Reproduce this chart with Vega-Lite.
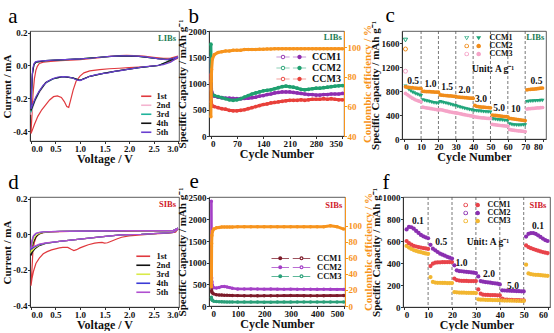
{
"$schema": "https://vega.github.io/schema/vega-lite/v6.json",
"background": "white",
"padding": {"left": 0, "top": 4, "right": 0, "bottom": 0},
"spacing": 5,
"resolve": {"scale": {"color": "independent", "shape": "independent", "fill": "independent", "stroke": "independent"}, "legend": {"color": "independent", "shape": "independent", "fill": "independent", "stroke": "independent"}},
"config": {
  "locale": {"number": {"decimal": ".", "thousands": ",", "grouping": [3], "currency": ["", ""], "minus": "-"}},
  "view": {"stroke": "#333", "strokeWidth": 0.8},
  "font": "Liberation Serif",
  "axis": {"grid": false, "labelFont": "Liberation Serif", "labelFontWeight": "bold", "labelFontSize": 9, "labelColor": "#111", "titleFont": "Liberation Serif", "titleFontWeight": "bold", "titleFontSize": 12, "titleColor": "#111", "domainColor": "#333", "tickColor": "#333", "tickSize": 2.5, "labelPadding": 0.5, "titlePadding": 0.5, "labelOverlap": false, "labelBound": false},
  "axisX": {"labelFlush": 8, "labelOverlap": false},
  "axisY": {"titleFontSize": 11, "labelOverlap": false},
  "axisQuantitative": {"labelOverlap": false},
  "legend": {"labelFont": "Liberation Serif", "labelFontWeight": "bold", "labelColor": "#111"},
  "title": {"font": "Liberation Serif", "fontSize": 21, "fontWeight": "normal", "anchor": "start", "frame": "bounds", "offset": 2, "color": "#000"},
  "text": {"font": "Liberation Serif", "fontWeight": "bold"}
},
"datasets": {
  "cvA": [
    {"c":"1st","o":0,"v":3.0,"i":0.045},{"c":"1st","o":1,"v":2.8,"i":0.02},{"c":"1st","o":2,"v":2.6,"i":0.0},{"c":"1st","o":3,"v":2.4,"i":-0.006},{"c":"1st","o":4,"v":2.2,"i":-0.01},{"c":"1st","o":5,"v":2.0,"i":-0.013},{"c":"1st","o":6,"v":1.8,"i":-0.017},{"c":"1st","o":7,"v":1.6,"i":-0.02},{"c":"1st","o":8,"v":1.4,"i":-0.025},{"c":"1st","o":9,"v":1.2,"i":-0.033},{"c":"1st","o":10,"v":1.08,"i":-0.045},{"c":"1st","o":11,"v":1.0,"i":-0.065},{"c":"1st","o":12,"v":0.92,"i":-0.096},{"c":"1st","o":13,"v":0.86,"i":-0.15},{"c":"1st","o":14,"v":0.81,"i":-0.21},{"c":"1st","o":15,"v":0.77,"i":-0.255},{"c":"1st","o":16,"v":0.73,"i":-0.25},{"c":"1st","o":17,"v":0.68,"i":-0.22},{"c":"1st","o":18,"v":0.62,"i":-0.195},{"c":"1st","o":19,"v":0.54,"i":-0.185},{"c":"1st","o":20,"v":0.46,"i":-0.19},{"c":"1st","o":21,"v":0.38,"i":-0.21},{"c":"1st","o":22,"v":0.3,"i":-0.24},{"c":"1st","o":23,"v":0.22,"i":-0.27},{"c":"1st","o":24,"v":0.14,"i":-0.31},{"c":"1st","o":25,"v":0.07,"i":-0.36},{"c":"1st","o":26,"v":0.02,"i":-0.4},{"c":"1st","o":27,"v":0.0,"i":-0.415},
    {"c":"1st","o":28,"v":0.02,"i":-0.3},{"c":"1st","o":29,"v":0.04,"i":-0.18},{"c":"1st","o":30,"v":0.07,"i":-0.08},{"c":"1st","o":31,"v":0.1,"i":-0.03},{"c":"1st","o":32,"v":0.13,"i":-0.005},{"c":"1st","o":33,"v":0.17,"i":0.012},{"c":"1st","o":34,"v":0.25,"i":0.02},{"c":"1st","o":35,"v":0.4,"i":0.025},{"c":"1st","o":36,"v":0.6,"i":0.03},{"c":"1st","o":37,"v":0.8,"i":0.033},{"c":"1st","o":38,"v":1.0,"i":0.036},{"c":"1st","o":39,"v":1.2,"i":0.042},{"c":"1st","o":40,"v":1.4,"i":0.048},{"c":"1st","o":41,"v":1.6,"i":0.056},{"c":"1st","o":42,"v":1.8,"i":0.06},{"c":"1st","o":43,"v":1.95,"i":0.062},{"c":"1st","o":44,"v":2.1,"i":0.06},{"c":"1st","o":45,"v":2.3,"i":0.057},{"c":"1st","o":46,"v":2.5,"i":0.05},{"c":"1st","o":47,"v":2.7,"i":0.043},{"c":"1st","o":48,"v":2.85,"i":0.045},{"c":"1st","o":49,"v":3.0,"i":0.058},
    {"c":"2nd","o":0,"v":3.0,"i":0.05},{"c":"2nd","o":1,"v":2.6,"i":0.0},{"c":"2nd","o":2,"v":2.2,"i":-0.013},{"c":"2nd","o":3,"v":1.83,"i":-0.03},{"c":"2nd","o":4,"v":1.5,"i":-0.047},{"c":"2nd","o":5,"v":1.2,"i":-0.066},{"c":"2nd","o":6,"v":1.0,"i":-0.09},{"c":"2nd","o":7,"v":0.85,"i":-0.076},{"c":"2nd","o":8,"v":0.65,"i":-0.068},{"c":"2nd","o":9,"v":0.45,"i":-0.082},{"c":"2nd","o":10,"v":0.3,"i":-0.108},{"c":"2nd","o":11,"v":0.17,"i":-0.165},{"c":"2nd","o":12,"v":0.08,"i":-0.22},{"c":"2nd","o":13,"v":0.03,"i":-0.265},{"c":"2nd","o":14,"v":0.0,"i":-0.3},
    {"c":"2nd","o":15,"v":0.015,"i":-0.17},{"c":"2nd","o":16,"v":0.03,"i":-0.05},{"c":"2nd","o":17,"v":0.06,"i":0.005},{"c":"2nd","o":18,"v":0.1,"i":0.02},{"c":"2nd","o":19,"v":0.3,"i":0.029},{"c":"2nd","o":20,"v":0.6,"i":0.034},{"c":"2nd","o":21,"v":1.0,"i":0.04},{"c":"2nd","o":22,"v":1.4,"i":0.05},{"c":"2nd","o":23,"v":1.8,"i":0.058},{"c":"2nd","o":24,"v":2.2,"i":0.056},{"c":"2nd","o":25,"v":2.6,"i":0.041},{"c":"2nd","o":26,"v":2.8,"i":0.036},{"c":"2nd","o":27,"v":3.0,"i":0.05},
    {"c":"3rd","o":0,"v":3.0,"i":0.05},{"c":"3rd","o":1,"v":2.6,"i":0.0},{"c":"3rd","o":2,"v":2.2,"i":-0.013},{"c":"3rd","o":3,"v":1.83,"i":-0.03},{"c":"3rd","o":4,"v":1.5,"i":-0.047},{"c":"3rd","o":5,"v":1.2,"i":-0.066},{"c":"3rd","o":6,"v":1.0,"i":-0.09},{"c":"3rd","o":7,"v":0.85,"i":-0.076},{"c":"3rd","o":8,"v":0.65,"i":-0.068},{"c":"3rd","o":9,"v":0.45,"i":-0.082},{"c":"3rd","o":10,"v":0.3,"i":-0.106},{"c":"3rd","o":11,"v":0.17,"i":-0.16},{"c":"3rd","o":12,"v":0.08,"i":-0.215},{"c":"3rd","o":13,"v":0.03,"i":-0.255},{"c":"3rd","o":14,"v":0.0,"i":-0.285},
    {"c":"3rd","o":15,"v":0.015,"i":-0.16},{"c":"3rd","o":16,"v":0.03,"i":-0.05},{"c":"3rd","o":17,"v":0.06,"i":0.005},{"c":"3rd","o":18,"v":0.1,"i":0.02},{"c":"3rd","o":19,"v":0.3,"i":0.029},{"c":"3rd","o":20,"v":0.6,"i":0.034},{"c":"3rd","o":21,"v":1.0,"i":0.04},{"c":"3rd","o":22,"v":1.4,"i":0.05},{"c":"3rd","o":23,"v":1.8,"i":0.058},{"c":"3rd","o":24,"v":2.2,"i":0.056},{"c":"3rd","o":25,"v":2.6,"i":0.041},{"c":"3rd","o":26,"v":2.8,"i":0.036},{"c":"3rd","o":27,"v":3.0,"i":0.05},
    {"c":"4th","o":0,"v":3.0,"i":0.05},{"c":"4th","o":1,"v":2.6,"i":0.0},{"c":"4th","o":2,"v":2.2,"i":-0.013},{"c":"4th","o":3,"v":1.83,"i":-0.03},{"c":"4th","o":4,"v":1.5,"i":-0.047},{"c":"4th","o":5,"v":1.2,"i":-0.066},{"c":"4th","o":6,"v":1.0,"i":-0.09},{"c":"4th","o":7,"v":0.85,"i":-0.076},{"c":"4th","o":8,"v":0.65,"i":-0.068},{"c":"4th","o":9,"v":0.45,"i":-0.081},{"c":"4th","o":10,"v":0.3,"i":-0.104},{"c":"4th","o":11,"v":0.17,"i":-0.158},{"c":"4th","o":12,"v":0.08,"i":-0.21},{"c":"4th","o":13,"v":0.03,"i":-0.25},{"c":"4th","o":14,"v":0.0,"i":-0.275},
    {"c":"4th","o":15,"v":0.012,"i":-0.16},{"c":"4th","o":16,"v":0.03,"i":-0.05},{"c":"4th","o":17,"v":0.06,"i":0.005},{"c":"4th","o":18,"v":0.1,"i":0.02},{"c":"4th","o":19,"v":0.3,"i":0.029},{"c":"4th","o":20,"v":0.6,"i":0.034},{"c":"4th","o":21,"v":1.0,"i":0.04},{"c":"4th","o":22,"v":1.4,"i":0.05},{"c":"4th","o":23,"v":1.8,"i":0.058},{"c":"4th","o":24,"v":2.2,"i":0.056},{"c":"4th","o":25,"v":2.6,"i":0.041},{"c":"4th","o":26,"v":2.8,"i":0.036},{"c":"4th","o":27,"v":3.0,"i":0.05},
    {"c":"5th","o":0,"v":3.0,"i":0.05},{"c":"5th","o":1,"v":2.85,"i":0.02},{"c":"5th","o":2,"v":2.7,"i":0.005},{"c":"5th","o":3,"v":2.5,"i":-0.003},{"c":"5th","o":4,"v":2.3,"i":-0.008},{"c":"5th","o":5,"v":2.17,"i":-0.015},{"c":"5th","o":6,"v":2.0,"i":-0.022},{"c":"5th","o":7,"v":1.83,"i":-0.031},{"c":"5th","o":8,"v":1.7,"i":-0.036},{"c":"5th","o":9,"v":1.58,"i":-0.045},{"c":"5th","o":10,"v":1.48,"i":-0.048},{"c":"5th","o":11,"v":1.33,"i":-0.056},{"c":"5th","o":12,"v":1.2,"i":-0.066},{"c":"5th","o":13,"v":1.13,"i":-0.076},{"c":"5th","o":14,"v":1.06,"i":-0.085},{"c":"5th","o":15,"v":1.0,"i":-0.092},{"c":"5th","o":16,"v":0.93,"i":-0.088},{"c":"5th","o":17,"v":0.85,"i":-0.076},{"c":"5th","o":18,"v":0.75,"i":-0.069},{"c":"5th","o":19,"v":0.65,"i":-0.068},{"c":"5th","o":20,"v":0.55,"i":-0.07},{"c":"5th","o":21,"v":0.45,"i":-0.08},{"c":"5th","o":22,"v":0.35,"i":-0.095},{"c":"5th","o":23,"v":0.25,"i":-0.12},{"c":"5th","o":24,"v":0.17,"i":-0.155},{"c":"5th","o":25,"v":0.1,"i":-0.19},{"c":"5th","o":26,"v":0.05,"i":-0.225},{"c":"5th","o":27,"v":0.0,"i":-0.265},
    {"c":"5th","o":28,"v":0.01,"i":-0.18},{"c":"5th","o":29,"v":0.02,"i":-0.09},{"c":"5th","o":30,"v":0.035,"i":-0.02},{"c":"5th","o":31,"v":0.06,"i":0.01},{"c":"5th","o":32,"v":0.09,"i":0.022},{"c":"5th","o":33,"v":0.15,"i":0.027},{"c":"5th","o":34,"v":0.3,"i":0.03},{"c":"5th","o":35,"v":0.58,"i":0.035},{"c":"5th","o":36,"v":0.8,"i":0.037},{"c":"5th","o":37,"v":1.0,"i":0.04},{"c":"5th","o":38,"v":1.2,"i":0.044},{"c":"5th","o":39,"v":1.42,"i":0.05},{"c":"5th","o":40,"v":1.6,"i":0.055},{"c":"5th","o":41,"v":1.83,"i":0.058},{"c":"5th","o":42,"v":2.05,"i":0.058},{"c":"5th","o":43,"v":2.25,"i":0.055},{"c":"5th","o":44,"v":2.45,"i":0.048},{"c":"5th","o":45,"v":2.6,"i":0.04},{"c":"5th","o":46,"v":2.75,"i":0.036},{"c":"5th","o":47,"v":2.9,"i":0.042},{"c":"5th","o":48,"v":3.0,"i":0.055}
  ],
  "cvD": [
    {"c":"1st","o":0,"v":3.0,"i":0.03},{"c":"1st","o":1,"v":2.95,"i":0.012},{"c":"1st","o":2,"v":2.8,"i":0.006},{"c":"1st","o":3,"v":2.5,"i":0.002},{"c":"1st","o":4,"v":2.25,"i":-0.003},{"c":"1st","o":5,"v":2.0,"i":-0.009},{"c":"1st","o":6,"v":1.85,"i":-0.017},{"c":"1st","o":7,"v":1.75,"i":-0.027},{"c":"1st","o":8,"v":1.65,"i":-0.038},{"c":"1st","o":9,"v":1.56,"i":-0.048},{"c":"1st","o":10,"v":1.5,"i":-0.05},{"c":"1st","o":11,"v":1.45,"i":-0.046},{"c":"1st","o":12,"v":1.38,"i":-0.047},{"c":"1st","o":13,"v":1.3,"i":-0.05},{"c":"1st","o":14,"v":1.17,"i":-0.059},{"c":"1st","o":15,"v":1.08,"i":-0.068},{"c":"1st","o":16,"v":1.0,"i":-0.077},{"c":"1st","o":17,"v":0.93,"i":-0.087},{"c":"1st","o":18,"v":0.875,"i":-0.092},{"c":"1st","o":19,"v":0.82,"i":-0.085},{"c":"1st","o":20,"v":0.75,"i":-0.074},{"c":"1st","o":21,"v":0.65,"i":-0.074},{"c":"1st","o":22,"v":0.58,"i":-0.077},{"c":"1st","o":23,"v":0.5,"i":-0.082},{"c":"1st","o":24,"v":0.42,"i":-0.088},{"c":"1st","o":25,"v":0.33,"i":-0.098},{"c":"1st","o":26,"v":0.25,"i":-0.11},{"c":"1st","o":27,"v":0.17,"i":-0.135},{"c":"1st","o":28,"v":0.1,"i":-0.165},{"c":"1st","o":29,"v":0.05,"i":-0.21},{"c":"1st","o":30,"v":0.02,"i":-0.25},{"c":"1st","o":31,"v":0.0,"i":-0.29},
    {"c":"1st","o":32,"v":0.02,"i":-0.2},{"c":"1st","o":33,"v":0.04,"i":-0.09},{"c":"1st","o":34,"v":0.07,"i":-0.045},{"c":"1st","o":35,"v":0.1,"i":-0.02},{"c":"1st","o":36,"v":0.13,"i":-0.006},{"c":"1st","o":37,"v":0.18,"i":0.004},{"c":"1st","o":38,"v":0.25,"i":0.009},{"c":"1st","o":39,"v":0.4,"i":0.013},{"c":"1st","o":40,"v":0.6,"i":0.015},{"c":"1st","o":41,"v":1.0,"i":0.017},{"c":"1st","o":42,"v":1.5,"i":0.018},{"c":"1st","o":43,"v":2.0,"i":0.018},{"c":"1st","o":44,"v":2.5,"i":0.019},{"c":"1st","o":45,"v":2.9,"i":0.02},{"c":"1st","o":46,"v":3.0,"i":0.03},
    {"c":"2nd","o":0,"v":3.0,"i":0.03},{"c":"2nd","o":1,"v":2.9,"i":0.01},{"c":"2nd","o":2,"v":2.5,"i":0.004},{"c":"2nd","o":3,"v":2.25,"i":0.0},{"c":"2nd","o":4,"v":2.0,"i":-0.002},{"c":"2nd","o":5,"v":1.83,"i":-0.004},{"c":"2nd","o":6,"v":1.42,"i":-0.015},{"c":"2nd","o":7,"v":1.0,"i":-0.027},{"c":"2nd","o":8,"v":0.58,"i":-0.04},{"c":"2nd","o":9,"v":0.3,"i":-0.052},{"c":"2nd","o":10,"v":0.17,"i":-0.064},{"c":"2nd","o":11,"v":0.08,"i":-0.082},{"c":"2nd","o":12,"v":0.03,"i":-0.1},{"c":"2nd","o":13,"v":0.0,"i":-0.12},
    {"c":"2nd","o":14,"v":0.02,"i":-0.08},{"c":"2nd","o":15,"v":0.05,"i":-0.045},{"c":"2nd","o":16,"v":0.1,"i":-0.015},{"c":"2nd","o":17,"v":0.17,"i":0.002},{"c":"2nd","o":18,"v":0.25,"i":0.01},{"c":"2nd","o":19,"v":0.4,"i":0.014},{"c":"2nd","o":20,"v":0.6,"i":0.016},{"c":"2nd","o":21,"v":1.0,"i":0.018},{"c":"2nd","o":22,"v":1.5,"i":0.019},{"c":"2nd","o":23,"v":2.0,"i":0.02},{"c":"2nd","o":24,"v":2.5,"i":0.02},{"c":"2nd","o":25,"v":2.9,"i":0.021},{"c":"2nd","o":26,"v":3.0,"i":0.035},
    {"c":"3rd","o":0,"v":3.0,"i":0.03},{"c":"3rd","o":1,"v":2.9,"i":0.01},{"c":"3rd","o":2,"v":2.5,"i":0.004},{"c":"3rd","o":3,"v":2.25,"i":0.0},{"c":"3rd","o":4,"v":2.0,"i":-0.002},{"c":"3rd","o":5,"v":1.83,"i":-0.004},{"c":"3rd","o":6,"v":1.42,"i":-0.015},{"c":"3rd","o":7,"v":1.0,"i":-0.027},{"c":"3rd","o":8,"v":0.58,"i":-0.04},{"c":"3rd","o":9,"v":0.3,"i":-0.05},{"c":"3rd","o":10,"v":0.17,"i":-0.06},{"c":"3rd","o":11,"v":0.08,"i":-0.075},{"c":"3rd","o":12,"v":0.03,"i":-0.09},{"c":"3rd","o":13,"v":0.0,"i":-0.1},
    {"c":"3rd","o":14,"v":0.02,"i":-0.06},{"c":"3rd","o":15,"v":0.05,"i":-0.03},{"c":"3rd","o":16,"v":0.1,"i":-0.006},{"c":"3rd","o":17,"v":0.17,"i":0.006},{"c":"3rd","o":18,"v":0.25,"i":0.011},{"c":"3rd","o":19,"v":0.4,"i":0.014},{"c":"3rd","o":20,"v":0.6,"i":0.016},{"c":"3rd","o":21,"v":1.0,"i":0.018},{"c":"3rd","o":22,"v":1.5,"i":0.019},{"c":"3rd","o":23,"v":2.0,"i":0.02},{"c":"3rd","o":24,"v":2.5,"i":0.02},{"c":"3rd","o":25,"v":2.9,"i":0.021},{"c":"3rd","o":26,"v":3.0,"i":0.035},
    {"c":"4th","o":0,"v":3.0,"i":0.03},{"c":"4th","o":1,"v":2.9,"i":0.01},{"c":"4th","o":2,"v":2.5,"i":0.004},{"c":"4th","o":3,"v":2.25,"i":0.0},{"c":"4th","o":4,"v":2.0,"i":-0.002},{"c":"4th","o":5,"v":1.83,"i":-0.004},{"c":"4th","o":6,"v":1.42,"i":-0.015},{"c":"4th","o":7,"v":1.0,"i":-0.027},{"c":"4th","o":8,"v":0.58,"i":-0.04},{"c":"4th","o":9,"v":0.3,"i":-0.05},{"c":"4th","o":10,"v":0.17,"i":-0.058},{"c":"4th","o":11,"v":0.08,"i":-0.07},{"c":"4th","o":12,"v":0.03,"i":-0.078},{"c":"4th","o":13,"v":0.0,"i":-0.085},
    {"c":"4th","o":14,"v":0.02,"i":-0.04},{"c":"4th","o":15,"v":0.05,"i":-0.012},{"c":"4th","o":16,"v":0.1,"i":0.004},{"c":"4th","o":17,"v":0.17,"i":0.01},{"c":"4th","o":18,"v":0.25,"i":0.013},{"c":"4th","o":19,"v":0.4,"i":0.015},{"c":"4th","o":20,"v":0.6,"i":0.016},{"c":"4th","o":21,"v":1.0,"i":0.018},{"c":"4th","o":22,"v":1.5,"i":0.019},{"c":"4th","o":23,"v":2.0,"i":0.02},{"c":"4th","o":24,"v":2.5,"i":0.02},{"c":"4th","o":25,"v":2.9,"i":0.021},{"c":"4th","o":26,"v":3.0,"i":0.035},
    {"c":"5th","o":0,"v":3.0,"i":0.03},{"c":"5th","o":1,"v":2.9,"i":0.01},{"c":"5th","o":2,"v":2.5,"i":0.004},{"c":"5th","o":3,"v":2.25,"i":0.0},{"c":"5th","o":4,"v":2.0,"i":-0.002},{"c":"5th","o":5,"v":1.83,"i":-0.004},{"c":"5th","o":6,"v":1.42,"i":-0.015},{"c":"5th","o":7,"v":1.0,"i":-0.027},{"c":"5th","o":8,"v":0.58,"i":-0.04},{"c":"5th","o":9,"v":0.3,"i":-0.049},{"c":"5th","o":10,"v":0.17,"i":-0.056},{"c":"5th","o":11,"v":0.08,"i":-0.066},{"c":"5th","o":12,"v":0.03,"i":-0.072},{"c":"5th","o":13,"v":0.0,"i":-0.077},
    {"c":"5th","o":14,"v":0.02,"i":-0.035},{"c":"5th","o":15,"v":0.05,"i":-0.008},{"c":"5th","o":16,"v":0.1,"i":0.006},{"c":"5th","o":17,"v":0.17,"i":0.011},{"c":"5th","o":18,"v":0.25,"i":0.014},{"c":"5th","o":19,"v":0.4,"i":0.015},{"c":"5th","o":20,"v":0.6,"i":0.016},{"c":"5th","o":21,"v":1.0,"i":0.018},{"c":"5th","o":22,"v":1.5,"i":0.019},{"c":"5th","o":23,"v":2.0,"i":0.02},{"c":"5th","o":24,"v":2.5,"i":0.02},{"c":"5th","o":25,"v":2.9,"i":0.021},{"c":"5th","o":26,"v":3.0,"i":0.035}
  ],
  "capB": [
    {"n":1,"CCM1":1500,"CCM2":1750,"CCM3":1180,"ce":53},
    {"n":2,"CCM1":900,"CCM2":880,"CCM3":650,"ce":77},
    {"n":3,"CCM1":850,"CCM2":820,"CCM3":600,"ce":85},
    {"n":5,"CCM1":800,"CCM2":790,"CCM3":570,"ce":92},
    {"n":10,"CCM1":760,"CCM2":770,"CCM3":560,"ce":95},
    {"n":20,"CCM1":740,"CCM2":750,"CCM3":540,"ce":96.5},
    {"n":30,"CCM1":730,"CCM2":730,"CCM3":520,"ce":97},
    {"n":40,"CCM1":720,"CCM2":710,"CCM3":510,"ce":97.5},
    {"n":50,"CCM1":720,"CCM2":690,"CCM3":490,"ce":97.5},
    {"n":60,"CCM1":715,"CCM2":680,"CCM3":480,"ce":98},
    {"n":70,"CCM1":710,"CCM2":690,"CCM3":480,"ce":98},
    {"n":80,"CCM1":710,"CCM2":710,"CCM3":490,"ce":98},
    {"n":90,"CCM1":715,"CCM2":740,"CCM3":500,"ce":98.5},
    {"n":100,"CCM1":720,"CCM2":770,"CCM3":520,"ce":98.5},
    {"n":110,"CCM1":730,"CCM2":800,"CCM3":540,"ce":98.5},
    {"n":120,"CCM1":740,"CCM2":820,"CCM3":560,"ce":98.5},
    {"n":130,"CCM1":760,"CCM2":840,"CCM3":580,"ce":98.7},
    {"n":140,"CCM1":770,"CCM2":860,"CCM3":600,"ce":98.7},
    {"n":150,"CCM1":790,"CCM2":870,"CCM3":610,"ce":98.8},
    {"n":160,"CCM1":800,"CCM2":880,"CCM3":630,"ce":98.8},
    {"n":170,"CCM1":820,"CCM2":900,"CCM3":640,"ce":99},
    {"n":180,"CCM1":830,"CCM2":920,"CCM3":650,"ce":99},
    {"n":190,"CCM1":840,"CCM2":940,"CCM3":660,"ce":99},
    {"n":200,"CCM1":840,"CCM2":950,"CCM3":670,"ce":99},
    {"n":210,"CCM1":840,"CCM2":940,"CCM3":680,"ce":99},
    {"n":220,"CCM1":830,"CCM2":930,"CCM3":680,"ce":99},
    {"n":230,"CCM1":820,"CCM2":910,"CCM3":680,"ce":99},
    {"n":240,"CCM1":810,"CCM2":890,"CCM3":690,"ce":99},
    {"n":250,"CCM1":800,"CCM2":880,"CCM3":680,"ce":99},
    {"n":260,"CCM1":790,"CCM2":890,"CCM3":690,"ce":99},
    {"n":270,"CCM1":790,"CCM2":900,"CCM3":700,"ce":99},
    {"n":280,"CCM1":780,"CCM2":910,"CCM3":700,"ce":99},
    {"n":290,"CCM1":780,"CCM2":910,"CCM3":700,"ce":99},
    {"n":300,"CCM1":790,"CCM2":920,"CCM3":710,"ce":99},
    {"n":310,"CCM1":790,"CCM2":930,"CCM3":700,"ce":99},
    {"n":320,"CCM1":800,"CCM2":940,"CCM3":710,"ce":99},
    {"n":330,"CCM1":800,"CCM2":950,"CCM3":700,"ce":99},
    {"n":340,"CCM1":800,"CCM2":955,"CCM3":690,"ce":99},
    {"n":350,"CCM1":810,"CCM2":960,"CCM3":690,"ce":99}
  ],
  "capE": [
    {"n":1,"CCM1":1380,"CCM2":2420,"CCM3":200,"ce":24},
    {"n":2,"CCM1":350,"CCM2":650,"CCM3":160,"ce":78},
    {"n":3,"CCM1":320,"CCM2":560,"CCM3":145,"ce":88},
    {"n":5,"CCM1":300,"CCM2":480,"CCM3":130,"ce":93},
    {"n":10,"CCM1":280,"CCM2":420,"CCM3":112,"ce":96},
    {"n":20,"CCM1":262,"CCM2":415,"CCM3":102,"ce":97.5},
    {"n":30,"CCM1":255,"CCM2":430,"CCM3":98,"ce":98},
    {"n":40,"CCM1":252,"CCM2":448,"CCM3":96,"ce":98.5},
    {"n":50,"CCM1":250,"CCM2":450,"CCM3":95,"ce":98.5},
    {"n":60,"CCM1":248,"CCM2":440,"CCM3":94,"ce":98.5},
    {"n":70,"CCM1":246,"CCM2":425,"CCM3":93,"ce":98.7},
    {"n":80,"CCM1":244,"CCM2":412,"CCM3":92,"ce":98.7},
    {"n":100,"CCM1":240,"CCM2":395,"CCM3":90,"ce":98.8},
    {"n":125,"CCM1":238,"CCM2":392,"CCM3":90,"ce":98.8},
    {"n":150,"CCM1":236,"CCM2":395,"CCM3":90,"ce":98.8},
    {"n":175,"CCM1":235,"CCM2":393,"CCM3":90,"ce":99},
    {"n":200,"CCM1":236,"CCM2":390,"CCM3":89,"ce":99},
    {"n":225,"CCM1":237,"CCM2":392,"CCM3":89,"ce":99},
    {"n":250,"CCM1":238,"CCM2":390,"CCM3":90,"ce":99},
    {"n":275,"CCM1":240,"CCM2":388,"CCM3":90,"ce":99},
    {"n":300,"CCM1":241,"CCM2":390,"CCM3":90,"ce":99},
    {"n":325,"CCM1":240,"CCM2":388,"CCM3":91,"ce":99},
    {"n":350,"CCM1":239,"CCM2":386,"CCM3":91,"ce":99},
    {"n":375,"CCM1":238,"CCM2":387,"CCM3":91,"ce":99},
    {"n":400,"CCM1":238,"CCM2":385,"CCM3":92,"ce":98.8},
    {"n":425,"CCM1":239,"CCM2":386,"CCM3":92,"ce":99},
    {"n":450,"CCM1":240,"CCM2":385,"CCM3":92,"ce":100},
    {"n":475,"CCM1":240,"CCM2":384,"CCM3":93,"ce":99},
    {"n":500,"CCM1":242,"CCM2":384,"CCM3":93,"ce":96}
  ],
  "rateC": [
    {"x":1,"CCM1":880,"CCM2":870,"CCM3":760},{"x":2,"CCM1":850,"CCM2":865,"CCM3":740},{"x":3,"CCM1":820,"CCM2":860,"CCM3":720},{"x":4,"CCM1":800,"CCM2":858,"CCM3":700},{"x":5,"CCM1":780,"CCM2":855,"CCM3":680},{"x":6,"CCM1":765,"CCM2":850,"CCM3":665},{"x":7,"CCM1":750,"CCM2":848,"CCM3":650},{"x":8,"CCM1":740,"CCM2":845,"CCM3":640},{"x":9,"CCM1":730,"CCM2":843,"CCM3":630},{"x":10,"CCM1":720,"CCM2":840,"CCM3":620},
    {"x":11,"CCM1":650,"CCM2":795,"CCM3":530},{"x":12,"CCM1":640,"CCM2":793,"CCM3":525},{"x":13,"CCM1":635,"CCM2":790,"CCM3":520},{"x":14,"CCM1":628,"CCM2":790,"CCM3":515},{"x":15,"CCM1":620,"CCM2":788,"CCM3":510},{"x":16,"CCM1":612,"CCM2":787,"CCM3":505},{"x":17,"CCM1":605,"CCM2":785,"CCM3":500},{"x":18,"CCM1":600,"CCM2":783,"CCM3":495},{"x":19,"CCM1":595,"CCM2":782,"CCM3":490},{"x":20,"CCM1":590,"CCM2":780,"CCM3":485},
    {"x":21,"CCM1":620,"CCM2":735,"CCM3":490},{"x":22,"CCM1":612,"CCM2":730,"CCM3":485},{"x":23,"CCM1":605,"CCM2":728,"CCM3":478},{"x":24,"CCM1":598,"CCM2":725,"CCM3":470},{"x":25,"CCM1":590,"CCM2":722,"CCM3":463},{"x":26,"CCM1":582,"CCM2":720,"CCM3":455},{"x":27,"CCM1":575,"CCM2":718,"CCM3":450},{"x":28,"CCM1":568,"CCM2":715,"CCM3":445},{"x":29,"CCM1":560,"CCM2":712,"CCM3":440},{"x":30,"CCM1":555,"CCM2":710,"CCM3":435},
    {"x":31,"CCM1":540,"CCM2":700,"CCM3":430},{"x":32,"CCM1":532,"CCM2":698,"CCM3":425},{"x":33,"CCM1":525,"CCM2":695,"CCM3":418},{"x":34,"CCM1":518,"CCM2":692,"CCM3":412},{"x":35,"CCM1":510,"CCM2":690,"CCM3":405},{"x":36,"CCM1":502,"CCM2":688,"CCM3":400},{"x":37,"CCM1":495,"CCM2":685,"CCM3":395},{"x":38,"CCM1":488,"CCM2":683,"CCM3":390},{"x":39,"CCM1":482,"CCM2":680,"CCM3":385},{"x":40,"CCM1":476,"CCM2":678,"CCM3":380},
    {"x":41,"CCM1":470,"CCM2":560,"CCM3":370},{"x":42,"CCM1":467,"CCM2":545,"CCM3":365},{"x":43,"CCM1":464,"CCM2":540,"CCM3":360},{"x":44,"CCM1":461,"CCM2":535,"CCM3":357},{"x":45,"CCM1":458,"CCM2":533,"CCM3":354},{"x":46,"CCM1":455,"CCM2":530,"CCM3":351},{"x":47,"CCM1":452,"CCM2":528,"CCM3":348},{"x":48,"CCM1":450,"CCM2":525,"CCM3":345},{"x":49,"CCM1":448,"CCM2":523,"CCM3":342},{"x":50,"CCM1":446,"CCM2":520,"CCM3":340},
    {"x":51,"CCM1":335,"CCM2":400,"CCM3":245},{"x":52,"CCM1":330,"CCM2":395,"CCM3":240},{"x":53,"CCM1":326,"CCM2":392,"CCM3":236},{"x":54,"CCM1":322,"CCM2":388,"CCM3":232},{"x":55,"CCM1":318,"CCM2":385,"CCM3":228},{"x":56,"CCM1":315,"CCM2":382,"CCM3":225},{"x":57,"CCM1":312,"CCM2":378,"CCM3":222},{"x":58,"CCM1":309,"CCM2":375,"CCM3":219},{"x":59,"CCM1":306,"CCM2":372,"CCM3":216},{"x":60,"CCM1":303,"CCM2":370,"CCM3":213},
    {"x":61,"CCM1":250,"CCM2":345,"CCM3":160},{"x":62,"CCM1":240,"CCM2":340,"CCM3":152},{"x":63,"CCM1":235,"CCM2":336,"CCM3":147},{"x":64,"CCM1":232,"CCM2":332,"CCM3":143},{"x":65,"CCM1":230,"CCM2":328,"CCM3":140},{"x":66,"CCM1":230,"CCM2":324,"CCM3":137},{"x":67,"CCM1":230,"CCM2":320,"CCM3":134},{"x":68,"CCM1":231,"CCM2":316,"CCM3":131},{"x":69,"CCM1":232,"CCM2":312,"CCM3":128},{"x":70,"CCM1":233,"CCM2":308,"CCM3":125},
    {"x":71,"CCM1":620,"CCM2":820,"CCM3":500},{"x":72,"CCM1":625,"CCM2":825,"CCM3":505},{"x":73,"CCM1":628,"CCM2":828,"CCM3":508},{"x":74,"CCM1":630,"CCM2":830,"CCM3":510},{"x":75,"CCM1":632,"CCM2":832,"CCM3":512},{"x":76,"CCM1":634,"CCM2":835,"CCM3":515},{"x":77,"CCM1":636,"CCM2":838,"CCM3":517},{"x":78,"CCM1":638,"CCM2":842,"CCM3":520},{"x":79,"CCM1":640,"CCM2":846,"CCM3":522},{"x":80,"CCM1":642,"CCM2":850,"CCM3":525}
  ],
  "firstC": [
    {"s":"CCM1","x":1,"cap":1650},{"s":"CCM2","x":1,"cap":1500},{"s":"CCM3","x":1,"cap":1130}
  ],
  "vlC": [{"x":10},{"x":20},{"x":30},{"x":40},{"x":50},{"x":60},{"x":70}],
  "labC": [
    {"x":5.4,"cap":975,"t":"0.5"},{"x":15.4,"cap":925,"t":"1.0"},{"x":25,"cap":865,"t":"1.5"},{"x":35,"cap":825,"t":"2.0"},{"x":44.5,"cap":665,"t":"3.0"},{"x":55,"cap":510,"t":"5.0"},{"x":64.5,"cap":500,"t":"10"},{"x":76.5,"cap":975,"t":"0.5"},{"x":51.5,"cap":1170,"t":"Unit: A g⁻¹"}
  ],
  "tagC": [{"x":81,"cap":1700,"t":"LIBs"}],
  "rateF": [
    {"x":1,"CCM1":600,"CCM2":705,"CCM3":555},{"x":2,"CCM1":580,"CCM2":728,"CCM3":540},{"x":3,"CCM1":566,"CCM2":725,"CCM3":528},{"x":4,"CCM1":556,"CCM2":712,"CCM3":518},{"x":5,"CCM1":550,"CCM2":692,"CCM3":510},{"x":6,"CCM1":545,"CCM2":673,"CCM3":503},{"x":7,"CCM1":540,"CCM2":655,"CCM3":498},{"x":8,"CCM1":536,"CCM2":643,"CCM3":492},{"x":9,"CCM1":532,"CCM2":634,"CCM3":487},{"x":10,"CCM1":528,"CCM2":625,"CCM3":483},
    {"x":11,"CCM1":372,"CCM2":565,"CCM3":272},{"x":12,"CCM1":394,"CCM2":530,"CCM3":228},{"x":13,"CCM1":403,"CCM2":515,"CCM3":222},{"x":14,"CCM1":405,"CCM2":500,"CCM3":220},{"x":15,"CCM1":406,"CCM2":486,"CCM3":220},{"x":16,"CCM1":407,"CCM2":476,"CCM3":219},{"x":17,"CCM1":407,"CCM2":467,"CCM3":219},{"x":18,"CCM1":408,"CCM2":456,"CCM3":218},{"x":19,"CCM1":408,"CCM2":448,"CCM3":218},{"x":20,"CCM1":409,"CCM2":440,"CCM3":218},
    {"x":21,"CCM1":258,"CCM2":379,"CCM3":136},{"x":22,"CCM1":245,"CCM2":333,"CCM3":133},{"x":23,"CCM1":240,"CCM2":327,"CCM3":131},{"x":24,"CCM1":238,"CCM2":325,"CCM3":130},{"x":25,"CCM1":237,"CCM2":322,"CCM3":130},{"x":26,"CCM1":237,"CCM2":320,"CCM3":129},{"x":27,"CCM1":236,"CCM2":318,"CCM3":129},{"x":28,"CCM1":236,"CCM2":315,"CCM3":128},{"x":29,"CCM1":236,"CCM2":312,"CCM3":128},{"x":30,"CCM1":236,"CCM2":309,"CCM3":127},
    {"x":31,"CCM1":160,"CCM2":278,"CCM3":70},{"x":32,"CCM1":121,"CCM2":236,"CCM3":67},{"x":33,"CCM1":112,"CCM2":230,"CCM3":66},{"x":34,"CCM1":111,"CCM2":227,"CCM3":65},{"x":35,"CCM1":110,"CCM2":224,"CCM3":64},{"x":36,"CCM1":109,"CCM2":221,"CCM3":64},{"x":37,"CCM1":108,"CCM2":218,"CCM3":63},{"x":38,"CCM1":107,"CCM2":215,"CCM3":63},{"x":39,"CCM1":106,"CCM2":212,"CCM3":62},{"x":40,"CCM1":106,"CCM2":205,"CCM3":62},
    {"x":41,"CCM1":76,"CCM2":152,"CCM3":60},{"x":42,"CCM1":67,"CCM2":150,"CCM3":59},{"x":43,"CCM1":66,"CCM2":149,"CCM3":58},{"x":44,"CCM1":65,"CCM2":148,"CCM3":58},{"x":45,"CCM1":64,"CCM2":147,"CCM3":57},{"x":46,"CCM1":63,"CCM2":146,"CCM3":57},{"x":47,"CCM1":62,"CCM2":145,"CCM3":56},{"x":48,"CCM1":62,"CCM2":144,"CCM3":56},{"x":49,"CCM1":61,"CCM2":143,"CCM3":55},{"x":50,"CCM1":61,"CCM2":142,"CCM3":55},
    {"x":51,"CCM1":560,"CCM2":640,"CCM3":385},{"x":52,"CCM1":545,"CCM2":665,"CCM3":305},{"x":53,"CCM1":535,"CCM2":672,"CCM3":298},{"x":54,"CCM1":527,"CCM2":672,"CCM3":295},{"x":55,"CCM1":520,"CCM2":665,"CCM3":293},{"x":56,"CCM1":512,"CCM2":652,"CCM3":291},{"x":57,"CCM1":505,"CCM2":637,"CCM3":289},{"x":58,"CCM1":499,"CCM2":622,"CCM3":287},{"x":59,"CCM1":494,"CCM2":609,"CCM3":285},{"x":60,"CCM1":490,"CCM2":600,"CCM3":283}
  ],
  "vlF": [{"x":10},{"x":20},{"x":30},{"x":40},{"x":50}],
  "labF": [
    {"x":5.7,"cap":785,"t":"0.1"},{"x":15.5,"cap":590,"t":"0.5"},{"x":24,"cap":402,"t":"1.0"},{"x":35.5,"cap":296,"t":"2.0"},{"x":45.5,"cap":190,"t":"5.0"},{"x":56,"cap":740,"t":"0.1"},{"x":35,"cap":590,"t":"Unit: A g⁻¹"}
  ],
  "tagF": [{"x":59.5,"cap":930,"t":"SIBs"}]
},
"vconcat": [
 {"spacing": -4,
  "resolve": {"scale": {"color": "independent", "shape": "independent", "fill": "independent", "stroke": "independent"}, "legend": {"color": "independent", "shape": "independent", "fill": "independent", "stroke": "independent"}},
  "hconcat": [
  {
   "width": 149, "height": 110,
   "title": {"text": "a", "dx": 7, "offset": 2},
   "layer": [
    {
     "data": {"name": "cvA"},
     "mark": {"type": "line", "strokeWidth": 1.2, "clip": true},
     "encoding": {
       "x": {"field": "v", "type": "quantitative", "scale": {"domain": [-0.02, 3.02], "nice": false, "zero": false}, "axis": {"title": "Voltage / V", "values": [0,0.5,1,1.5,2,2.5,3], "format": ".1f", "labelOverlap": false}},
       "y": {"field": "i", "type": "quantitative", "scale": {"domain": [-0.46, 0.21], "nice": false, "zero": false}, "axis": {"title": "Current / mA", "values": [-0.4,-0.2,0,0.2], "format": ".1f", "labelOverlap": false}},
       "color": {"field": "c", "type": "nominal", "scale": {"domain": ["1st","2nd","3rd","4th","5th"], "range": ["#e0393e","#f4b4d0","#1fb39b","#111111","#6a3fd0"]}, "legend": {"orient": "none", "legendX": 112, "legendY": 61, "title": null, "symbolType": "M-1.7,0L1.7,0", "symbolSize": 36, "symbolStrokeWidth": 1.6, "labelFontSize": 8.5, "rowPadding": -1.5, "labelOffset": 6, "padding": 0}},
       "order": {"field": "o", "type": "quantitative"}
     }
    },
    {
     "data": {"values": [{"v": 2.96, "i": 0.165, "t": "LIBs"}]},
     "mark": {"type": "text", "color": "#1c7c54", "fontSize": 8.5, "align": "right", "baseline": "middle"},
     "encoding": {
       "x": {"field": "v", "type": "quantitative", "scale": {"domain": [-0.02, 3.02], "nice": false, "zero": false}, "axis": {"title": "Voltage / V", "values": [0,0.5,1,1.5,2,2.5,3], "format": ".1f", "labelOverlap": false}},
       "y": {"field": "i", "type": "quantitative", "scale": {"domain": [-0.46, 0.21], "nice": false, "zero": false}, "axis": {"title": "Current / mA", "values": [-0.4,-0.2,0,0.2], "format": ".1f", "labelOverlap": false}},
       "text": {"field": "t"}
     }
    }
   ]
  },
  {
   "width": 135, "height": 105,
   "title": {"text": "b", "dx": 12, "offset": -8},
   "layer": [
    {"layer": [
      {
       "data": {"name": "capB"},
       "transform": [{"fold": ["CCM1","CCM2","CCM3"], "as": ["s","cap"]}],
       "mark": {"type": "point", "filled": true, "size": 14, "opacity": 1, "clip": true},
       "encoding": {
         "x": {"field": "n", "type": "quantitative", "scale": {"domain": [-4, 354], "nice": false, "zero": false}, "axis": {"title": "Cycle Number", "values": [0,70,140,210,280,350], "labelOverlap": false}},
         "y": {"field": "cap", "type": "quantitative", "scale": {"domain": [0, 2000], "nice": false}, "axis": {"title": "Specific Capacity / mAh g⁻¹", "values": [0,500,1000,1500,2000], "format": "d", "labelOverlap": false}},
         "color": {"field": "s", "type": "nominal", "scale": {"domain": ["CCM1","CCM2","CCM3"], "range": ["#8e2db0","#1fa070","#e8403a"]}, "legend": {"orient": "none", "legendX": 69, "legendY": 21, "title": null, "symbolType": "M-3,-0.15L-1,-0.15L-1,0.15L-3,0.15ZM-1,0A1,1 0 1,1 1,0A1,1 0 1,1 -1,0ZM-0.6,0A0.6,0.6 0 1,0 0.6,0A0.6,0.6 0 1,0 -0.6,0ZM1,-0.15L3,-0.15L3,0.15L1,0.15ZM4.5,-0.15L10.5,-0.15L10.5,0.15L4.5,0.15ZM6.5,0A1,1 0 1,1 8.5,0A1,1 0 1,1 6.5,0Z", "symbolSize": 19.4, "symbolStrokeWidth": 0, "labelFontSize": 10, "labelOffset": 24, "rowPadding": 1, "padding": 0}}
       }
      },
      {
       "data": {"name": "capB"},
       "transform": [{"fold": ["CCM1","CCM2","CCM3"], "as": ["s","cap"]}],
       "mark": {"type": "line", "strokeWidth": 3, "clip": true},
       "encoding": {
         "x": {"field": "n", "type": "quantitative", "scale": {"domain": [-4, 354], "nice": false, "zero": false}, "axis": {"title": "Cycle Number", "values": [0,70,140,210,280,350], "labelOverlap": false}},
         "y": {"field": "cap", "type": "quantitative", "scale": {"domain": [0, 2000], "nice": false}, "axis": {"title": "Specific Capacity / mAh g⁻¹", "values": [0,500,1000,1500,2000], "format": "d", "labelOverlap": false}},
         "stroke": {"field": "s", "type": "nominal", "scale": {"domain": ["CCM1","CCM2","CCM3"], "range": ["#8e2db0","#1fa070","#e8403a"]}, "legend": null}
       }
      },
      {
       "data": {"values": [{"n": 348, "cap": 1880, "t": "LIBs"}]},
       "mark": {"type": "text", "color": "#1c7c54", "fontSize": 8.5, "align": "right", "baseline": "middle"},
       "encoding": {
         "x": {"field": "n", "type": "quantitative", "scale": {"domain": [-4, 354], "nice": false, "zero": false}, "axis": {"title": "Cycle Number", "values": [0,70,140,210,280,350], "labelOverlap": false}},
         "y": {"field": "cap", "type": "quantitative", "scale": {"domain": [0, 2000], "nice": false}, "axis": {"title": "Specific Capacity / mAh g⁻¹", "values": [0,500,1000,1500,2000], "format": "d", "labelOverlap": false}},
         "text": {"field": "t"}
       }
      }
    ]},
    {"layer": [
      {
       "data": {"name": "capB"},
       "mark": {"type": "line", "strokeWidth": 3, "color": "#f7941d", "clip": true},
       "encoding": {
         "x": {"field": "n", "type": "quantitative", "scale": {"domain": [-4, 354], "nice": false, "zero": false}, "axis": {"title": "Cycle Number", "values": [0,70,140,210,280,350], "labelOverlap": false}},
         "y": {"field": "ce", "type": "quantitative", "scale": {"domain": [40, 111], "nice": false, "zero": false}, "axis": {"orient": "right", "title": "Coulombic efficiency / %", "values": [40,60,80,100], "labelOverlap": false, "labelColor": "#f7941d", "titleColor": "#f7941d", "domainColor": "#f7941d", "tickColor": "#f7941d", "titleAngle": 270, "titleBaseline": "top"}}
       }
      },
      {
       "data": {"name": "capB"},
       "mark": {"type": "point", "filled": true, "size": 12, "opacity": 1, "color": "#f7941d", "clip": true},
       "encoding": {
         "x": {"field": "n", "type": "quantitative", "scale": {"domain": [-4, 354], "nice": false, "zero": false}, "axis": {"title": "Cycle Number", "values": [0,70,140,210,280,350], "labelOverlap": false}},
         "y": {"field": "ce", "type": "quantitative", "scale": {"domain": [40, 111], "nice": false, "zero": false}, "axis": {"orient": "right", "title": "Coulombic efficiency / %", "values": [40,60,80,100], "labelOverlap": false, "labelColor": "#f7941d", "titleColor": "#f7941d", "domainColor": "#f7941d", "tickColor": "#f7941d", "titleAngle": 270, "titleBaseline": "top"}}
       }
      }
    ]}
   ],
   "resolve": {"scale": {"y": "independent"}}
  },
  {
   "width": 144, "height": 108,
   "title": {"text": "c", "dx": 16, "offset": -5},
   "layer": [
    {
     "data": {"name": "rateC"},
     "transform": [{"fold": ["CCM1","CCM2","CCM3"], "as": ["s","cap"]}, {"filter": "datum.x > 1000"}],
     "mark": {"type": "point", "filled": true, "opacity": 1},
     "encoding": {
       "x": {"field": "x", "type": "quantitative", "scale": {"domain": [-1, 82], "nice": false, "zero": false}, "axis": {"title": "Cycle Number", "values": [0,10,20,30,40,50,60,70,80], "labelOverlap": false}},
       "y": {"field": "cap", "type": "quantitative", "scale": {"domain": [0, 1800], "nice": false}, "axis": {"title": "Specific Capacity / mAh g⁻¹", "values": [0,400,800,1200,1600], "format": "d", "labelOverlap": false}},
       "color": {"field": "s", "type": "nominal", "scale": {"domain": ["CCM1","CCM2","CCM3"], "range": ["#1fa57a","#f08c1a","#f5a3c7"]}, "legend": {"orient": "none", "legendX": 60.7, "legendY": 3, "title": null, "symbolSize": 21.2, "symbolStrokeWidth": 0, "labelFontSize": 8, "labelOffset": 18.7, "rowPadding": -1, "padding": 0}},
       "shape": {"field": "s", "type": "nominal", "scale": {"domain": ["CCM1","CCM2","CCM3"], "range": ["M-1.1,-0.8L1.1,-0.8L0,1ZM-0.55,-0.5L0,0.55L0.55,-0.5ZM4.1,-0.8L6.3,-0.8L5.2,1Z", "M-1,0A1,1 0 1,1 1,0A1,1 0 1,1 -1,0ZM-0.6,0A0.6,0.6 0 1,0 0.6,0A0.6,0.6 0 1,0 -0.6,0ZM4.2,0A1,1 0 1,1 6.2,0A1,1 0 1,1 4.2,0Z", "M-1,0A1,1 0 1,1 1,0A1,1 0 1,1 -1,0ZM-0.6,0A0.6,0.6 0 1,0 0.6,0A0.6,0.6 0 1,0 -0.6,0ZM4.2,0A1,1 0 1,1 6.2,0A1,1 0 1,1 4.2,0Z"]}, "legend": {"orient": "none", "legendX": 60.7, "legendY": 3, "title": null, "symbolSize": 21.2, "symbolStrokeWidth": 0, "labelFontSize": 8, "labelOffset": 18.7, "rowPadding": -1, "padding": 0}}
     }
    },
    {
     "data": {"name": "vlC"},
     "mark": {"type": "rule", "strokeDash": [3,2], "color": "#555", "strokeWidth": 0.8},
     "encoding": {"x": {"field": "x", "type": "quantitative", "scale": {"domain": [-1, 82], "nice": false, "zero": false}, "axis": {"title": "Cycle Number", "values": [0,10,20,30,40,50,60,70,80], "labelOverlap": false}}}
    },
    {
     "data": {"name": "rateC"},
     "transform": [{"fold": ["CCM1","CCM2","CCM3"], "as": ["s","cap"]}, {"filter": {"field": "s", "equal": "CCM1"}}],
     "mark": {"type": "point", "shape": "triangle-down", "filled": true, "size": 16, "opacity": 1},
     "encoding": {
       "x": {"field": "x", "type": "quantitative", "scale": {"domain": [-1, 82], "nice": false, "zero": false}, "axis": {"title": "Cycle Number", "values": [0,10,20,30,40,50,60,70,80], "labelOverlap": false}},
       "y": {"field": "cap", "type": "quantitative", "scale": {"domain": [0, 1800], "nice": false}, "axis": {"title": "Specific Capacity / mAh g⁻¹", "values": [0,400,800,1200,1600], "format": "d", "labelOverlap": false}},
       "fill": {"field": "s", "type": "nominal", "scale": {"domain": ["CCM3","CCM2","CCM1"], "range": ["#f5a3c7","#f08c1a","#1fa57a"]}, "legend": null}
     }
    },
    {
     "data": {"name": "rateC"},
     "transform": [{"fold": ["CCM1","CCM2","CCM3"], "as": ["s","cap"]}, {"filter": {"not": {"field": "s", "equal": "CCM1"}}}],
     "mark": {"type": "point", "shape": "circle", "filled": true, "size": 14, "opacity": 1},
     "encoding": {
       "x": {"field": "x", "type": "quantitative", "scale": {"domain": [-1, 82], "nice": false, "zero": false}, "axis": {"title": "Cycle Number", "values": [0,10,20,30,40,50,60,70,80], "labelOverlap": false}},
       "y": {"field": "cap", "type": "quantitative", "scale": {"domain": [0, 1800], "nice": false}, "axis": {"title": "Specific Capacity / mAh g⁻¹", "values": [0,400,800,1200,1600], "format": "d", "labelOverlap": false}},
       "fill": {"field": "s", "type": "nominal", "scale": {"domain": ["CCM3","CCM2","CCM1"], "range": ["#f5a3c7","#f08c1a","#1fa57a"]}, "legend": null}
     }
    },
    {
     "data": {"name": "firstC"},
     "transform": [{"filter": {"field": "s", "equal": "CCM1"}}],
     "mark": {"type": "point", "shape": "triangle-down", "filled": false, "size": 18, "strokeWidth": 1, "opacity": 1},
     "encoding": {
       "x": {"field": "x", "type": "quantitative", "scale": {"domain": [-1, 82], "nice": false, "zero": false}, "axis": {"title": "Cycle Number", "values": [0,10,20,30,40,50,60,70,80], "labelOverlap": false}},
       "y": {"field": "cap", "type": "quantitative", "scale": {"domain": [0, 1800], "nice": false}, "axis": {"title": "Specific Capacity / mAh g⁻¹", "values": [0,400,800,1200,1600], "format": "d", "labelOverlap": false}},
       "stroke": {"field": "s", "type": "nominal", "scale": {"domain": ["CCM3","CCM2","CCM1"], "range": ["#f5a3c7","#f08c1a","#1fa57a"]}, "legend": null}
     }
    },
    {
     "data": {"name": "firstC"},
     "transform": [{"filter": {"not": {"field": "s", "equal": "CCM1"}}}],
     "mark": {"type": "point", "shape": "circle", "filled": false, "size": 16, "strokeWidth": 1, "opacity": 1},
     "encoding": {
       "x": {"field": "x", "type": "quantitative", "scale": {"domain": [-1, 82], "nice": false, "zero": false}, "axis": {"title": "Cycle Number", "values": [0,10,20,30,40,50,60,70,80], "labelOverlap": false}},
       "y": {"field": "cap", "type": "quantitative", "scale": {"domain": [0, 1800], "nice": false}, "axis": {"title": "Specific Capacity / mAh g⁻¹", "values": [0,400,800,1200,1600], "format": "d", "labelOverlap": false}},
       "stroke": {"field": "s", "type": "nominal", "scale": {"domain": ["CCM3","CCM2","CCM1"], "range": ["#f5a3c7","#f08c1a","#1fa57a"]}, "legend": null}
     }
    },
    {
     "data": {"name": "labC"},
     "mark": {"type": "text", "fontSize": 9.5, "color": "#111", "baseline": "middle"},
     "encoding": {
       "x": {"field": "x", "type": "quantitative", "scale": {"domain": [-1, 82], "nice": false, "zero": false}, "axis": {"title": "Cycle Number", "values": [0,10,20,30,40,50,60,70,80], "labelOverlap": false}},
       "y": {"field": "cap", "type": "quantitative", "scale": {"domain": [0, 1800], "nice": false}, "axis": {"title": "Specific Capacity / mAh g⁻¹", "values": [0,400,800,1200,1600], "format": "d", "labelOverlap": false}},
       "text": {"field": "t"}
     }
    },
    {
     "data": {"name": "tagC"},
     "mark": {"type": "text", "color": "#1c7c54", "fontSize": 8.5, "align": "right", "baseline": "middle"},
     "encoding": {
       "x": {"field": "x", "type": "quantitative", "scale": {"domain": [-1, 82], "nice": false, "zero": false}, "axis": {"title": "Cycle Number", "values": [0,10,20,30,40,50,60,70,80], "labelOverlap": false}},
       "y": {"field": "cap", "type": "quantitative", "scale": {"domain": [0, 1800], "nice": false}, "axis": {"title": "Specific Capacity / mAh g⁻¹", "values": [0,400,800,1200,1600], "format": "d", "labelOverlap": false}},
       "text": {"field": "t"}
     }
    }
   ]
  }
 ]},
 {"spacing": -4,
  "resolve": {"scale": {"color": "independent", "shape": "independent", "fill": "independent", "stroke": "independent"}, "legend": {"color": "independent", "shape": "independent", "fill": "independent", "stroke": "independent"}},
  "hconcat": [
  {
   "width": 149, "height": 110,
   "title": {"text": "d", "dx": 7, "offset": 2},
   "layer": [
    {
     "data": {"name": "cvD"},
     "mark": {"type": "line", "strokeWidth": 1.2, "clip": true},
     "encoding": {
       "x": {"field": "v", "type": "quantitative", "scale": {"domain": [-0.02, 3.02], "nice": false, "zero": false}, "axis": {"title": "Voltage / V", "values": [0,0.5,1,1.5,2,2.5,3], "format": ".1f", "labelOverlap": false}},
       "y": {"field": "i", "type": "quantitative", "scale": {"domain": [-0.41, 0.21], "nice": false, "zero": false}, "axis": {"title": "Current / mA", "values": [-0.4,-0.2,0,0.2], "format": ".1f", "labelOverlap": false}},
       "color": {"field": "c", "type": "nominal", "scale": {"domain": ["1st","2nd","3rd","4th","5th"], "range": ["#e0393e","#111111","#d9ea4a","#3b3bd6","#b04fd0"]}, "legend": {"orient": "none", "legendX": 109, "legendY": 55, "title": null, "symbolType": "M-2.3,0L2.3,0", "symbolSize": 36, "symbolStrokeWidth": 1.6, "labelFontSize": 8.5, "rowPadding": -1.2, "labelOffset": 9, "padding": 0}},
       "order": {"field": "o", "type": "quantitative"}
     }
    },
    {
     "data": {"values": [{"v": 2.96, "i": 0.17, "t": "SIBs"}]},
     "mark": {"type": "text", "color": "#d0202b", "fontSize": 8.5, "align": "right", "baseline": "middle"},
     "encoding": {
       "x": {"field": "v", "type": "quantitative", "scale": {"domain": [-0.02, 3.02], "nice": false, "zero": false}, "axis": {"title": "Voltage / V", "values": [0,0.5,1,1.5,2,2.5,3], "format": ".1f", "labelOverlap": false}},
       "y": {"field": "i", "type": "quantitative", "scale": {"domain": [-0.41, 0.21], "nice": false, "zero": false}, "axis": {"title": "Current / mA", "values": [-0.4,-0.2,0,0.2], "format": ".1f", "labelOverlap": false}},
       "text": {"field": "t"}
     }
    }
   ]
  },
  {
   "width": 136, "height": 109,
   "title": {"text": "e", "dx": 13, "offset": -5},
   "layer": [
    {"layer": [
      {
       "data": {"name": "capE"},
       "transform": [{"fold": ["CCM1","CCM2","CCM3"], "as": ["s","cap"]}],
       "mark": {"type": "point", "filled": true, "size": 12, "opacity": 1, "clip": true},
       "encoding": {
         "x": {"field": "n", "type": "quantitative", "scale": {"domain": [-8, 505], "nice": false, "zero": false}, "axis": {"title": "Cycle Number", "values": [0,100,200,300,400,500], "labelOverlap": false}},
         "y": {"field": "cap", "type": "quantitative", "scale": {"domain": [0, 2520], "nice": false}, "axis": {"title": "Specific Capacity / mAh g⁻¹", "values": [0,500,1000,1500,2000,2500], "format": "d", "labelOverlap": false}},
         "color": {"field": "s", "type": "nominal", "scale": {"domain": ["CCM1","CCM2","CCM3"], "range": ["#7d1b2a","#a43fc6","#2aa079"]}, "legend": {"orient": "none", "legendX": 67, "legendY": 57, "title": null, "symbolType": "M-3.5,-0.15L3.5,-0.15L3.5,0.15L-3.5,0.15ZM-0.8,0A0.8,0.8 0 1,1 0.8,0A0.8,0.8 0 1,1 -0.8,0ZM5,-0.15L7.7,-0.15L7.7,0.15L5,0.15ZM7.7,0A0.8,0.8 0 1,1 9.3,0A0.8,0.8 0 1,1 7.7,0ZM8.15,0A0.35,0.35 0 1,0 8.85,0A0.35,0.35 0 1,0 8.15,0ZM9.3,-0.15L12,-0.15L12,0.15L9.3,0.15Z", "symbolSize": 25, "symbolStrokeWidth": 0, "labelFontSize": 8.5, "labelOffset": 32.5, "rowPadding": -1.5, "padding": 0}}
       }
      },
      {
       "data": {"name": "capE"},
       "transform": [{"fold": ["CCM1","CCM2","CCM3"], "as": ["s","cap"]}],
       "mark": {"type": "line", "strokeWidth": 2.6, "clip": true},
       "encoding": {
         "x": {"field": "n", "type": "quantitative", "scale": {"domain": [-8, 505], "nice": false, "zero": false}, "axis": {"title": "Cycle Number", "values": [0,100,200,300,400,500], "labelOverlap": false}},
         "y": {"field": "cap", "type": "quantitative", "scale": {"domain": [0, 2520], "nice": false}, "axis": {"title": "Specific Capacity / mAh g⁻¹", "values": [0,500,1000,1500,2000,2500], "format": "d", "labelOverlap": false}},
         "stroke": {"field": "s", "type": "nominal", "scale": {"domain": ["CCM1","CCM2","CCM3"], "range": ["#7d1b2a","#a43fc6","#2aa079"]}, "legend": null}
       }
      },
      {
       "data": {"values": [{"n": 495, "cap": 2330, "t": "SIBs"}]},
       "mark": {"type": "text", "color": "#d0202b", "fontSize": 8.5, "align": "right", "baseline": "middle"},
       "encoding": {
         "x": {"field": "n", "type": "quantitative", "scale": {"domain": [-8, 505], "nice": false, "zero": false}, "axis": {"title": "Cycle Number", "values": [0,100,200,300,400,500], "labelOverlap": false}},
         "y": {"field": "cap", "type": "quantitative", "scale": {"domain": [0, 2520], "nice": false}, "axis": {"title": "Specific Capacity / mAh g⁻¹", "values": [0,500,1000,1500,2000,2500], "format": "d", "labelOverlap": false}},
         "text": {"field": "t"}
       }
      }
    ]},
    {"layer": [
      {
       "data": {"name": "capE"},
       "mark": {"type": "line", "strokeWidth": 3, "color": "#f7941d", "clip": true},
       "encoding": {
         "x": {"field": "n", "type": "quantitative", "scale": {"domain": [-8, 505], "nice": false, "zero": false}, "axis": {"title": "Cycle Number", "values": [0,100,200,300,400,500], "labelOverlap": false}},
         "y": {"field": "ce", "type": "quantitative", "scale": {"domain": [0, 136], "nice": false, "zero": false}, "axis": {"orient": "right", "title": "Coulombic efficiency / %", "values": [0,20,40,60,80,100], "labelOverlap": false, "labelColor": "#f7941d", "titleColor": "#f7941d", "domainColor": "#f7941d", "tickColor": "#f7941d", "titleAngle": 270, "titleBaseline": "top"}}
       }
      },
      {
       "data": {"name": "capE"},
       "mark": {"type": "point", "filled": true, "size": 12, "opacity": 1, "color": "#f7941d", "clip": true},
       "encoding": {
         "x": {"field": "n", "type": "quantitative", "scale": {"domain": [-8, 505], "nice": false, "zero": false}, "axis": {"title": "Cycle Number", "values": [0,100,200,300,400,500], "labelOverlap": false}},
         "y": {"field": "ce", "type": "quantitative", "scale": {"domain": [0, 136], "nice": false, "zero": false}, "axis": {"orient": "right", "title": "Coulombic efficiency / %", "values": [0,20,40,60,80,100], "labelOverlap": false, "labelColor": "#f7941d", "titleColor": "#f7941d", "domainColor": "#f7941d", "tickColor": "#f7941d", "titleAngle": 270, "titleBaseline": "top"}}
       }
      }
    ]}
   ],
   "resolve": {"scale": {"y": "independent"}}
  },
  {
   "width": 147, "height": 110,
   "title": {"text": "f", "dx": 12, "offset": -5},
   "layer": [
    {
     "data": {"name": "vlF"},
     "mark": {"type": "rule", "strokeDash": [3,2], "color": "#555", "strokeWidth": 0.8},
     "encoding": {"x": {"field": "x", "type": "quantitative", "scale": {"domain": [-0.5, 61], "nice": false, "zero": false}, "axis": {"title": "Cycle Number", "values": [0,10,20,30,40,50,60], "labelOverlap": false}}}
    },
    {
     "data": {"name": "rateF"},
     "transform": [{"fold": ["CCM1","CCM2","CCM3"], "as": ["s","cap"]}],
     "mark": {"type": "point", "shape": "circle", "filled": true, "size": 18, "opacity": 1},
     "encoding": {
       "x": {"field": "x", "type": "quantitative", "scale": {"domain": [-0.5, 61], "nice": false, "zero": false}, "axis": {"title": "Cycle Number", "values": [0,10,20,30,40,50,60], "labelOverlap": false}},
       "y": {"field": "cap", "type": "quantitative", "scale": {"domain": [0, 1000], "nice": false}, "axis": {"title": "Specific Capacity / mAh g⁻¹", "values": [0,200,400,600,800,1000], "format": "d", "labelOverlap": false}},
       "color": {"field": "s", "type": "nominal", "scale": {"domain": ["CCM1","CCM2","CCM3"], "range": ["#e8434a","#8a2fb0","#f2b630"]}, "legend": {"orient": "none", "legendX": 58.7, "legendY": 4, "title": null, "symbolType": "M-1,0A1,1 0 1,1 1,0A1,1 0 1,1 -1,0ZM-0.6,0A0.6,0.6 0 1,0 0.6,0A0.6,0.6 0 1,0 -0.6,0ZM4.2,0A1,1 0 1,1 6.2,0A1,1 0 1,1 4.2,0Z", "symbolSize": 21.2, "symbolStrokeWidth": 0, "labelFontSize": 8, "labelOffset": 17.7, "rowPadding": -0.5, "padding": 0}}
     }
    },
    {
     "data": {"name": "labF"},
     "mark": {"type": "text", "fontSize": 9.5, "color": "#111", "baseline": "middle"},
     "encoding": {
       "x": {"field": "x", "type": "quantitative", "scale": {"domain": [-0.5, 61], "nice": false, "zero": false}, "axis": {"title": "Cycle Number", "values": [0,10,20,30,40,50,60], "labelOverlap": false}},
       "y": {"field": "cap", "type": "quantitative", "scale": {"domain": [0, 1000], "nice": false}, "axis": {"title": "Specific Capacity / mAh g⁻¹", "values": [0,200,400,600,800,1000], "format": "d", "labelOverlap": false}},
       "text": {"field": "t"}
     }
    },
    {
     "data": {"name": "tagF"},
     "mark": {"type": "text", "color": "#d0202b", "fontSize": 8.5, "align": "right", "baseline": "middle"},
     "encoding": {
       "x": {"field": "x", "type": "quantitative", "scale": {"domain": [-0.5, 61], "nice": false, "zero": false}, "axis": {"title": "Cycle Number", "values": [0,10,20,30,40,50,60], "labelOverlap": false}},
       "y": {"field": "cap", "type": "quantitative", "scale": {"domain": [0, 1000], "nice": false}, "axis": {"title": "Specific Capacity / mAh g⁻¹", "values": [0,200,400,600,800,1000], "format": "d", "labelOverlap": false}},
       "text": {"field": "t"}
     }
    }
   ]
  }
 ]}
]
}
